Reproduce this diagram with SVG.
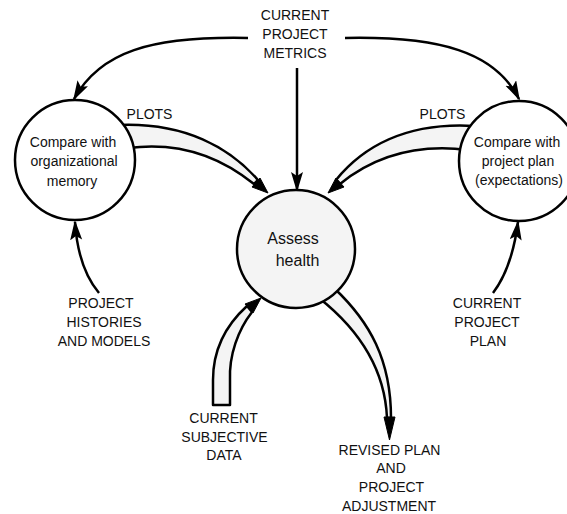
<svg xmlns="http://www.w3.org/2000/svg" width="567" height="514" viewBox="0 0 567 514">
<style>
.t{font-family:"Liberation Sans",Arial,sans-serif;font-size:14px;fill:#111;text-anchor:middle}
.big{font-size:16px}
.ln{fill:none;stroke:#000;stroke-width:2.5;marker-end:url(#ah)}
.band{fill:#f4f4f4;stroke:#000;stroke-width:2.5;stroke-linejoin:round}
.head{fill:#000;stroke:#000;stroke-width:1;stroke-linejoin:miter}
.node{stroke:#000;stroke-width:2.5}
</style>
<defs>
<marker id="ah" markerUnits="userSpaceOnUse" markerWidth="22" markerHeight="14" refX="18" refY="6" orient="auto">
<path d="M0,0 L20,6 L0,12 L4,6 Z" fill="#000"/>
</marker>
</defs>
<g id="connectors">
<path class="ln" d="M 248 38 C 150 36, 100 52, 74 99"/>
<path class="ln" d="M 345 38 C 440 36, 495 52, 519 99"/>
<path class="ln" d="M 297 68 L 297 190"/>
<path class="ln" d="M 99 293 Q 78 268 75 222"/>
<path class="ln" d="M 493 293 Q 512 268 518 222"/>
<path class="band" d="M 118 125 C 185 122, 230 148, 258 180 L 254 184 C 222 158, 180 141, 128 148 Z"/>
<polygon class="head" points="268,193 260,178 252,187"/>
<path class="band" d="M 474 126 C 405 122, 362 148, 336 180 L 340 184 C 372 158, 412 143, 468 150 Z"/>
<polygon class="head" points="328,193 336,178 344,187"/>
<path class="band" d="M 213 405 L 213 380 C 213 350, 226 325, 247 306 L 252 312 C 238 330, 229 355, 230 380 L 230 405 Z"/>
<polygon class="head" points="261,298 245,304 253,313"/>
<path class="band" d="M 334 288 C 370 322, 391 360, 391 418 L 387 418 C 385 372, 362 332, 319 298 Z"/>
<polygon class="head" points="384,417 389.5,440 395,417"/>
</g>
<g id="node-org-memory">
<circle class="node" cx="75" cy="160" r="60" fill="#fff"/>
<text class="t" x="73" y="147">Compare with</text>
<text class="t" x="74" y="166">organizational</text>
<text class="t" x="72" y="185.5">memory</text>
</g>
<g id="node-project-plan">
<circle class="node" cx="519" cy="161" r="60" fill="#fff"/>
<text class="t" x="517" y="147">Compare with</text>
<text class="t" x="518" y="166">project plan</text>
<text class="t" x="519" y="185">(expectations)</text>
</g>
<g id="node-assess">
<circle class="node" cx="296" cy="249" r="59" fill="#f4f4f4"/>
<text class="t big" x="293" y="244">Assess</text>
<text class="t big" x="297.5" y="265.5">health</text>
</g>
<g id="label-metrics">
<text class="t" x="295" y="20">CURRENT</text>
<text class="t" x="295" y="39">PROJECT</text>
<text class="t" x="295" y="58">METRICS</text>
</g>
<g id="label-plots-left"><text class="t" x="149.5" y="119">PLOTS</text></g>
<g id="label-plots-right"><text class="t" x="442.5" y="119">PLOTS</text></g>
<g id="label-histories">
<text class="t" x="101" y="308">PROJECT</text>
<text class="t" x="104" y="327">HISTORIES</text>
<text class="t" x="104" y="346">AND MODELS</text>
</g>
<g id="label-current-plan">
<text class="t" x="487" y="308">CURRENT</text>
<text class="t" x="487" y="327">PROJECT</text>
<text class="t" x="488" y="346">PLAN</text>
</g>
<g id="label-subjective">
<text class="t" x="223.5" y="423">CURRENT</text>
<text class="t" x="224.5" y="442">SUBJECTIVE</text>
<text class="t" x="224" y="460">DATA</text>
</g>
<g id="label-revised">
<text class="t" x="389.5" y="455">REVISED PLAN</text>
<text class="t" x="391" y="473">AND</text>
<text class="t" x="391.5" y="492">PROJECT</text>
<text class="t" x="389" y="511">ADJUSTMENT</text>
</g>
</svg>
